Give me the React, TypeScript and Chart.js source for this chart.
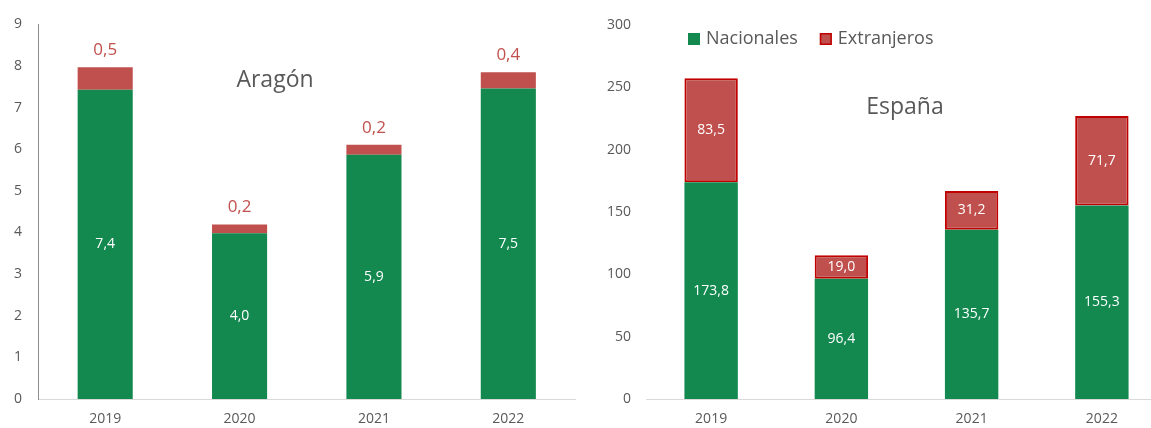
import React, { useEffect, useRef } from 'react';
import { Chart, registerables } from 'chart.js';

Chart.register(...registerables);

const years = ['2019', '2020', '2021', '2022'];
const aragonNacionales = [7.43, 3.98, 5.87, 7.46];
const aragonExtranjeros = [0.54, 0.21, 0.24, 0.39];
const espanaNacionales = [173.8, 96.4, 135.7, 155.3];
const espanaExtranjeros = [83.5, 19.0, 31.2, 71.7];
const seriesNames = ['Nacionales', 'Extranjeros'];

const GREEN = '#138950';
const RED = '#C0504D';
const DARK_RED = '#C00000';
const TEXT = '#595959';
const FONT = '"Open Sans", "Noto Sans", sans-serif';

const fmt = (v: number) => v.toFixed(1).replace('.', ',');

function makeLabelPlugin(redOutside: boolean) {
  return {
    id: 'valueLabels',
    afterDatasetsDraw(chart: any) {
      const ctx = chart.ctx;
      ctx.save();
      ctx.textAlign = 'center';
      ctx.textBaseline = 'middle';
      chart.data.datasets.forEach((ds: any, di: number) => {
        const meta = chart.getDatasetMeta(di);
        meta.data.forEach((bar: any, i: number) => {
          const v = ds.data[i];
          const { x, y, base } = bar.getProps(['x', 'y', 'base'], true);
          if (redOutside && di === 1) {
            ctx.fillStyle = RED;
            ctx.font = `17px ${FONT}`;
            ctx.fillText(fmt(v), x, y - 17);
          } else {
            ctx.fillStyle = '#FFFFFF';
            ctx.font = `14px ${FONT}`;
            ctx.fillText(fmt(v), x, (y + base) / 2);
          }
        });
      });
      ctx.restore();
    },
  };
}

function makeTitlePlugin(text: string, cx: number, cy: number) {
  return {
    id: 'innerTitle',
    afterDraw(chart: any) {
      const ctx = chart.ctx;
      ctx.save();
      ctx.fillStyle = TEXT;
      ctx.font = `23px ${FONT}`;
      ctx.textAlign = 'center';
      ctx.textBaseline = 'middle';
      ctx.fillText(text, cx, cy);
      ctx.restore();
    },
  };
}

const legendPlugin = {
  id: 'customLegend',
  afterDraw(chart: any) {
    const ctx = chart.ctx;
    ctx.save();
    ctx.font = `18px ${FONT}`;
    ctx.textBaseline = 'middle';
    ctx.textAlign = 'left';
    let x = 108;
    const cy = 39;
    const size = 12;
    chart.data.datasets.forEach((ds: any) => {
      ctx.fillStyle = ds.backgroundColor;
      ctx.fillRect(x, cy - size / 2, size, size);
      if (ds.borderWidth) {
        ctx.strokeStyle = ds.borderColor;
        ctx.lineWidth = 1.5;
        ctx.strokeRect(x + 0.75, cy - size / 2 + 0.75, size - 1.5, size - 1.5);
      }
      x += size + 6;
      ctx.fillStyle = TEXT;
      ctx.fillText(ds.label, x, cy);
      x += ctx.measureText(ds.label).width + 22;
    });
    ctx.restore();
  },
};

function BarChart(props: {
  nac: number[];
  ext: number[];
  max: number;
  step: number;
  title: string;
  titleX: number;
  titleY: number;
  redOutside: boolean;
  redBorder: boolean;
  yLine: boolean;
  yWidth: number;
  yPad: number;
  padding: any;
  legend: boolean;
}) {
  const ref = useRef<HTMLCanvasElement | null>(null);
  useEffect(() => {
    if (!ref.current) return;
    const plugins: any[] = [makeLabelPlugin(props.redOutside), makeTitlePlugin(props.title, props.titleX, props.titleY)];
    if (props.legend) plugins.push(legendPlugin);
    const chart = new Chart(ref.current, {
      type: 'bar',
      data: {
        labels: years,
        datasets: [
          {
            label: seriesNames[0],
            data: props.nac,
            backgroundColor: GREEN,
            borderWidth: 0,
            barPercentage: 0.41,
            categoryPercentage: 1,
          },
          {
            label: seriesNames[1],
            data: props.ext,
            backgroundColor: RED,
            borderColor: DARK_RED,
            borderWidth: props.redBorder ? 2 : 0,
            borderSkipped: false,
            barPercentage: 0.41,
            categoryPercentage: 1,
          },
        ],
      },
      options: {
        animation: false,
        responsive: true,
        maintainAspectRatio: false,
        layout: { padding: props.padding },
        plugins: {
          legend: { display: false },
          tooltip: { enabled: false },
          title: { display: false },
        },
        scales: {
          x: {
            stacked: true,
            grid: { display: false, drawTicks: false },
            border: { display: true, color: '#D9D9D9', width: 1 },
            ticks: { color: TEXT, font: { family: FONT, size: 14 }, padding: 12 },
            afterFit: (s: any) => {
              s.height = 29;
            },
          },
          y: {
            stacked: true,
            min: 0,
            max: props.max,
            grid: { display: false, drawTicks: false },
            border: { display: props.yLine, color: '#8C8C8C', width: 1 },
            ticks: {
              stepSize: props.step,
              color: TEXT,
              font: { family: FONT, size: 14 },
              padding: props.yPad,
            },
            afterFit: (s: any) => {
              s.width = props.yWidth;
            },
          },
        },
      } as any,
      plugins,
    });
    return () => chart.destroy();
  }, []);
  return <canvas ref={ref} />;
}

export default function App() {
  return (
    <div
      style={{
        position: 'absolute',
        left: 0,
        top: 0,
        width: 1151,
        height: 428,
        overflow: 'hidden',
        background: '#fff',
      }}
    >
      <div style={{ position: 'absolute', left: 0, top: 0, width: 580, height: 428 }}>
        <BarChart
          nac={aragonNacionales}
          ext={aragonExtranjeros}
          max={9}
          step={1}
          title="Aragón"
          titleX={275}
          titleY={80}
          redOutside={true}
          redBorder={false}
          yLine={true}
          yWidth={38}
          yPad={16}
          padding={{ top: 24, right: 4.5, left: 0, bottom: 0 }}
          legend={false}
        />
      </div>
      <div style={{ position: 'absolute', left: 580, top: 0, width: 587, height: 428 }}>
        <BarChart
          nac={espanaNacionales}
          ext={espanaExtranjeros}
          max={300}
          step={50}
          title="España"
          titleX={325}
          titleY={107}
          redOutside={false}
          redBorder={true}
          yLine={false}
          yWidth={66}
          yPad={15}
          padding={{ top: 25, right: 0, left: 0, bottom: 0 }}
          legend={true}
        />
      </div>
    </div>
  );
}
